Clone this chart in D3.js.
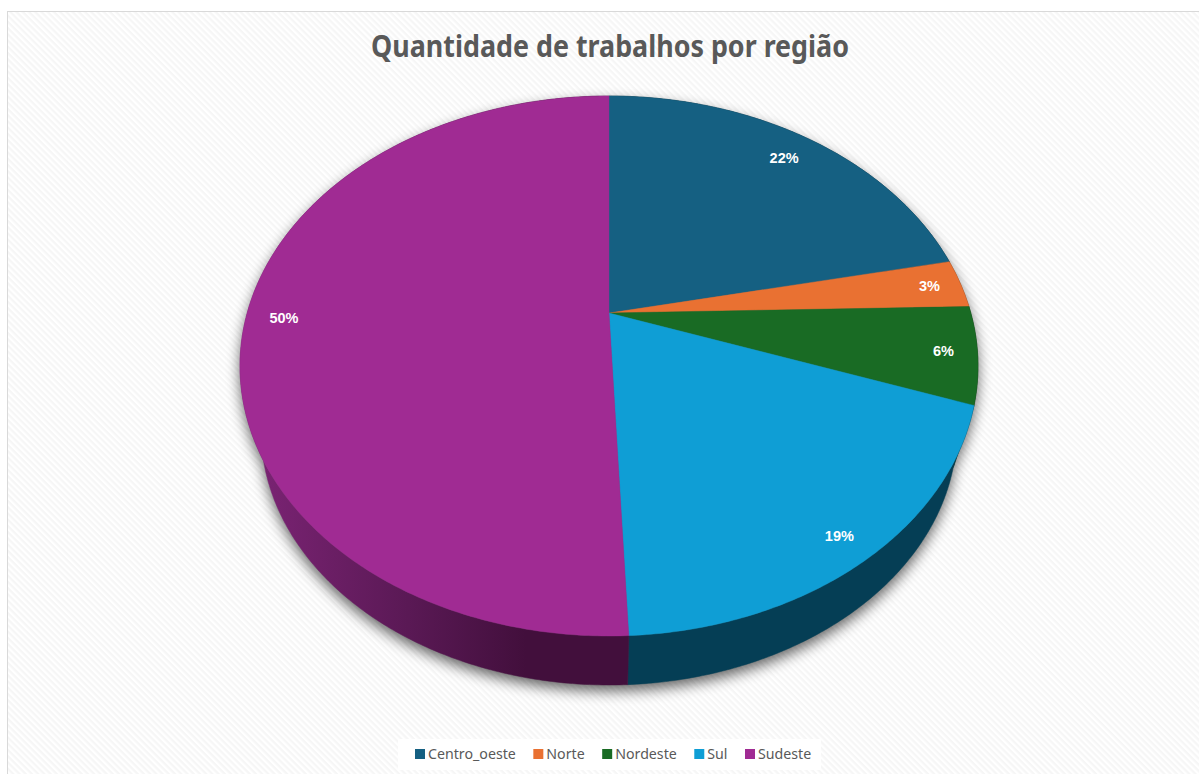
<!DOCTYPE html>
<html>
<head>
<meta charset="utf-8">
<script src="https://cdn.jsdelivr.net/npm/d3@7"></script>
<style>
  html, body { margin: 0; padding: 0; background: #fff; }
  svg { display: block; }
  text { font-family: "Noto Sans", "Open Sans", sans-serif; }
</style>
</head>
<body>
<svg id="chart" width="1199" height="774"></svg>
<script>
// Data. Slice sizes come from the drawn angles,
// the printed labels are kept as they appear in the chart.
var regions = ['Centro_oeste', 'Norte', 'Nordeste', 'Sul', 'Sudeste'];
var shares = [21.7, 2.9, 5.8, 18.9, 50.7];
var shareLabels = ['22%', '3%', '6%', '19%', '50%'];
var topColors = ['#156082', '#e97132', '#196b24', '#0f9ed5', '#a02b93'];
var wallColors = ['#0a3041', '#753919', '#0d3512', '#053e55', 'url(#wallPurple)'];

var width = 1199, height = 774;

// Perspective tilted disc
var cx = 609, cy = 313, rx = 361.8, ry = 259.6, persp = 0.1963;
var lowerDrop = 67.4, lowerScale = 0.943;
var labelReach = [0.87, 0.91, 0.91, 0.915, 0.895];

function project(angle, f) {
  var s = 1 / (1 + persp * f * Math.cos(angle));
  return [cx + f * rx * Math.sin(angle) * s, cy - f * ry * Math.cos(angle) * s];
}
function projectLow(angle) {
  var p = project(angle, 1);
  return [cx + (p[0] - cx) * lowerScale, cy + lowerDrop + (p[1] - cy) * lowerScale];
}
function projectTop(angle) {
  return project(angle, 1);
}

var svg = d3.select('#chart');
var defs = svg.append('defs');

var stripes = defs.append('pattern')
    .attr('id', 'stripes')
    .attr('width', 4.4).attr('height', 4.4)
    .attr('patternUnits', 'userSpaceOnUse')
    .attr('patternTransform', 'rotate(45)');
stripes.append('rect').attr('width', 4.4).attr('height', 4.4).attr('fill', '#fff');
stripes.append('rect').attr('width', 4.4).attr('height', 2.2).attr('fill', '#f6f6f6');

defs.append('filter').attr('id', 'soft')
    .attr('x', '-10%').attr('y', '-10%').attr('width', '120%').attr('height', '120%')
  .append('feGaussianBlur').attr('stdDeviation', 7);

var purple = defs.append('linearGradient')
    .attr('id', 'wallPurple')
    .attr('gradientUnits', 'userSpaceOnUse')
    .attr('x1', 260).attr('x2', 630).attr('y1', 0).attr('y2', 0);
purple.append('stop').attr('offset', 0).attr('stop-color', '#7a2373');
purple.append('stop').attr('offset', 0.4).attr('stop-color', '#5a1955');
purple.append('stop').attr('offset', 0.72).attr('stop-color', '#420f3c');
purple.append('stop').attr('offset', 1).attr('stop-color', '#420f3c');

// Chart area
svg.append('rect')
    .attr('x', 7.5).attr('y', 11.5)
    .attr('width', width).attr('height', height)
    .attr('fill', 'url(#stripes)')
    .attr('stroke', '#d9d9d9');

svg.append('text')
    .attr('x', 610).attr('y', 57)
    .attr('text-anchor', 'middle')
    .attr('font-size', 31).attr('font-weight', 700)
    .attr('fill', '#595959')
    .attr('textLength', 478).attr('lengthAdjust', 'spacingAndGlyphs')
    .text('Quantidade de trabalhos por região');

var pie = d3.pie().sort(null).value(function(d) { return d; });
var arcs = pie(shares);
var line = d3.line();

function rim(a0, a1, fn) {
  var steps = Math.max(2, Math.ceil((a1 - a0) / 0.01));
  return d3.range(steps + 1).map(function(i) { return fn(a0 + (a1 - a0) * i / steps); });
}

// Shadow under the disc
var shadow = svg.append('g')
    .attr('filter', 'url(#soft)')
    .attr('opacity', 0.6);
[projectLow, projectTop].forEach(function(fn) {
  shadow.append('path')
      .attr('d', line(rim(0, 2 * Math.PI, fn)) + 'Z')
      .attr('transform', 'translate(0,6)')
      .attr('fill', '#000');
});

// Outer wall
svg.append('g').selectAll('path')
    .data(arcs)
  .enter().append('path')
    .attr('d', function(d) {
      var top = rim(d.startAngle, d.endAngle, projectTop);
      var low = rim(d.startAngle, d.endAngle, projectLow).reverse();
      return line(top.concat(low)) + 'Z';
    })
    .attr('fill', function(d, i) { return wallColors[i]; })
    .attr('stroke', function(d, i) { return wallColors[i]; })
    .attr('stroke-width', 0.5);

// Top face
svg.append('g').selectAll('path')
    .data(arcs)
  .enter().append('path')
    .attr('d', function(d) {
      var pts = rim(d.startAngle, d.endAngle, projectTop);
      return line([[cx, cy]].concat(pts)) + 'Z';
    })
    .attr('fill', function(d, i) { return topColors[i]; })
    .attr('stroke', function(d, i) { return topColors[i]; })
    .attr('stroke-width', 0.4);

// Data labels
svg.append('g').selectAll('text')
    .data(arcs)
  .enter().append('text')
    .attr('x', function(d, i) { return project((d.startAngle + d.endAngle) / 2, labelReach[i])[0]; })
    .attr('y', function(d, i) { return project((d.startAngle + d.endAngle) / 2, labelReach[i])[1] + 5; })
    .attr('text-anchor', 'middle')
    .style('font-family', '"Liberation Sans", sans-serif')
    .attr('font-size', 14.5).attr('font-weight', 700)
    .attr('fill', '#fff')
    .text(function(d, i) { return shareLabels[i]; });

// Legend
svg.append('rect')
    .attr('x', 398).attr('y', 739)
    .attr('width', 423).attr('height', 31)
    .attr('fill', '#fff');

var legend = svg.append('g');
var legendX = 415;
regions.forEach(function(name, i) {
  legend.append('rect')
      .attr('x', legendX).attr('y', 749)
      .attr('width', 10).attr('height', 10)
      .attr('fill', topColors[i]);
  var label = legend.append('text')
      .attr('x', legendX + 13).attr('y', 759)
      .attr('font-size', 14.2)
      .attr('fill', '#595959')
      .text(name);
  legendX += 13 + label.node().getComputedTextLength() + 17.5;
});
</script>
</body>
</html>
